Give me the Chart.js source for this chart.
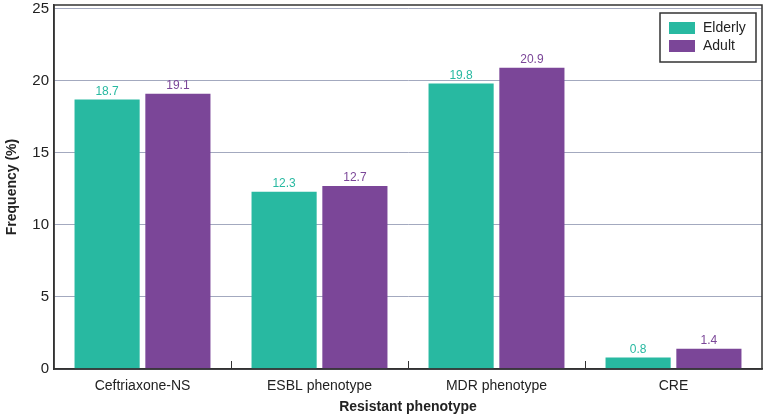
<!DOCTYPE html>
<html>
<head>
<meta charset="utf-8">
<script src="https://cdn.jsdelivr.net/npm/chart.js@4.4.1/dist/chart.umd.min.js"></script>
<style>
html,body{margin:0;padding:0;background:#fff;}
#wrap{width:764px;height:416px;position:relative;}
</style>
</head>
<body>
<div id="wrap"><canvas id="c" width="764" height="416"></canvas></div>
<script>
const categories = ["Ceftriaxone-NS", "ESBL phenotype", "MDR phenotype", "CRE"];
const elderly = [18.7, 12.3, 19.8, 0.8];
const adult = [19.1, 12.7, 20.9, 1.4];
const seriesNames = ["Elderly", "Adult"];
const yTicks = [0, 5, 10, 15, 20, 25];

const FONT = "'Liberation Sans Narrow', 'Liberation Sans', Arial, sans-serif";
const TEAL = "#28b9a1";
const PURPLE = "#7b4698";
const AXIS = "#333333";

const framePlugin = {
  id: 'frame',
  afterDatasetsDraw(chart) {
    const {ctx, chartArea: a} = chart;
    ctx.save();
    // value labels
    chart.data.datasets.forEach((ds, di) => {
      const meta = chart.getDatasetMeta(di);
      meta.data.forEach((bar, i) => {
        ctx.fillStyle = ds.backgroundColor;
        ctx.font = "12px " + FONT;
        ctx.textAlign = 'center';
        ctx.textBaseline = 'bottom';
        ctx.fillText(ds.data[i].toFixed(1), bar.x, bar.y - 2);
      });
    });
    // x boundary ticks (inside)
    const xs = chart.scales.x;
    ctx.strokeStyle = AXIS;
    ctx.lineWidth = 1;
    for (let i = 0; i < categories.length - 1; i++) {
      const px = Math.round((xs.getPixelForValue(i) + xs.getPixelForValue(i + 1)) / 2) + 0.5;
      ctx.beginPath();
      ctx.moveTo(px, a.bottom);
      ctx.lineTo(px, a.bottom - 8);
      ctx.stroke();
    }
    // frame
    ctx.strokeStyle = AXIS;
    ctx.lineWidth = 1.5;
    ctx.strokeRect(a.left, a.top, a.right - a.left, a.bottom - a.top);
    // legend
    const bw = 96, bh = 49;
    const bx = a.right - 6 - bw, by = a.top + 8;
    ctx.fillStyle = '#fff';
    ctx.fillRect(bx, by, bw, bh);
    ctx.strokeStyle = AXIS;
    ctx.lineWidth = 1.5;
    ctx.strokeRect(bx, by, bw, bh);
    chart.data.datasets.forEach((ds, di) => {
      const sy = by + 9 + di * 18;
      ctx.fillStyle = ds.backgroundColor;
      ctx.fillRect(bx + 9, sy, 26, 12);
      ctx.fillStyle = '#222';
      ctx.font = "14px " + FONT;
      ctx.textAlign = 'left';
      ctx.textBaseline = 'middle';
      ctx.fillText(ds.label, bx + 43, sy + 6);
    });
    ctx.restore();
  }
};

new Chart(document.getElementById('c'), {
  type: 'bar',
  data: {
    labels: categories,
    datasets: [
      {label: seriesNames[0], data: elderly, backgroundColor: TEAL, borderWidth: 0},
      {label: seriesNames[1], data: adult, backgroundColor: PURPLE, borderWidth: 0}
    ]
  },
  options: {
    responsive: false,
    animation: false,
    devicePixelRatio: 1,
    layout: {padding: {top: 5, right: 2, left: 0, bottom: 0}},
    categoryPercentage: 0.8,
    barPercentage: 0.92,
    plugins: {legend: {display: false}, tooltip: {enabled: false}},
    scales: {
      x: {
        grid: {display: false, drawTicks: false},
        border: {display: true, color: AXIS, width: 1.5},
        ticks: {color: '#222', font: {family: FONT, size: 14}, padding: 9},
        title: {display: true, text: 'Resistant phenotype', color: '#222', font: {family: FONT, size: 14, weight: 'bold'}, padding: {top: 2, bottom: 0}},
        afterFit(s) { s.height = 47; s.paddingLeft = 0; s.paddingRight = 0; }
      },
      y: {
        min: 0, max: 25.25,
        afterBuildTicks(s) { s.ticks = yTicks.map(v => ({value: v})); },
        grid: {color: '#a3a9bf', lineWidth: 1, drawTicks: false},
        border: {display: true, color: AXIS, width: 1.5},
        ticks: {color: '#222', font: {family: FONT, size: 15}, padding: 5},
        title: {display: true, text: 'Frequency (%)', color: '#222', font: {family: FONT, size: 14, weight: 'bold'}, padding: {top: 4, bottom: 2}},
        afterFit(s) { s.width = 54; s.paddingTop = 0; s.paddingBottom = 0; }
      }
    }
  },
  plugins: [framePlugin]
});
</script>
</body>
</html>
